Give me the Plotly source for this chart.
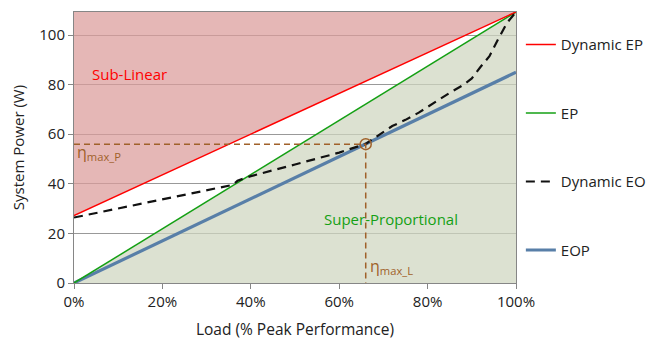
import plotly.graph_objects as go

# ---- data ----
load = [0, 100]                      # % peak performance
p_peak = 109.3
dyn_ep = [27.2, 109.3]               # Dynamic EP
ep = [0, 109.3]                      # EP
eop = [0, 85.0]                      # EOP

dyn_eo_load = [0, 10, 20, 30, 36, 37, 40, 50, 60, 66, 70, 72, 75, 78, 80, 83, 85, 88, 90, 92, 94, 96, 98, 100]
dyn_eo_power = [26.4, 30.1, 33.7, 37.4, 39.6, 41.3, 43.1, 47.8, 52.6, 56.1, 61.0, 63.3, 65.8, 68.7,
                71.0, 74.5, 76.7, 79.8, 82.5, 87.2, 91.5, 98.5, 105.0, 109.3]

eta_load = 66
eta_power = 56

x_ticks = [0, 20, 40, 60, 80, 100]
x_tick_labels = ["0%", "20%", "40%", "60%", "80%", "100%"]
y_ticks = [0, 20, 40, 60, 80, 100]

FONT = "Open Sans"
BROWN = "#A0612A"
RED = "#FF0000"
GREEN = "#14A014"
BLUE = "#587FA8"

fig = go.Figure()

# sub-linear region (above Dynamic EP)
fig.add_trace(go.Scatter(x=load, y=[p_peak, p_peak], mode="lines", line=dict(width=0),
                         showlegend=False, hoverinfo="skip"))
fig.add_trace(go.Scatter(x=load, y=dyn_ep, mode="lines", line=dict(width=0),
                         fill="tonexty", fillcolor="rgba(219,155,154,0.72)",
                         showlegend=False, hoverinfo="skip"))
# super-proportional region (below EP)
fig.add_trace(go.Scatter(x=load, y=ep, mode="lines", line=dict(width=0),
                         fill="tozeroy", fillcolor="rgba(206,214,191,0.72)",
                         showlegend=False, hoverinfo="skip"))

# lines
fig.add_trace(go.Scatter(x=load, y=eop, mode="lines", name="EOP",
                         line=dict(color=BLUE, width=3.2), legendrank=4, legendgroup="d"))
fig.add_trace(go.Scatter(x=load, y=ep, mode="lines", name="EP",
                         line=dict(color=GREEN, width=1.5), legendrank=2, legendgroup="b"))
fig.add_trace(go.Scatter(x=load, y=dyn_ep, mode="lines", name="Dynamic EP",
                         line=dict(color=RED, width=1.5), legendrank=1, legendgroup="a"))
fig.add_trace(go.Scatter(x=dyn_eo_load, y=dyn_eo_power, mode="lines", name="Dynamic EO",
                         line=dict(color="#111111", width=2.2, dash="9px,6px"),
                         legendrank=3, legendgroup="c"))

# eta max guides
fig.add_trace(go.Scatter(x=[0, eta_load, eta_load], y=[eta_power, eta_power, 0], mode="lines",
                         line=dict(color=BROWN, width=1.5, dash="6px,4px"),
                         showlegend=False, hoverinfo="skip"))
fig.add_trace(go.Scatter(x=[eta_load], y=[eta_power], mode="markers",
                         marker=dict(symbol="circle-open", size=11, color=BROWN, line=dict(width=1.5)),
                         showlegend=False, hoverinfo="skip"))

fig.add_annotation(x=3.6, y=84.2, text="Sub-Linear", showarrow=False, xanchor="left",
                   font=dict(color=RED, size=15, family=FONT))
fig.add_annotation(x=56.1, y=25.9, text="Super-Proportional", showarrow=False, xanchor="left",
                   font=dict(color=GREEN, size=15, family=FONT))
fig.add_annotation(x=0.3, y=52.5, text="η<sub>max_P</sub>", showarrow=False, xanchor="left",
                   font=dict(color=BROWN, size=16, family=FONT))
fig.add_annotation(x=66.6, y=6.5, text="η<sub>max_L</sub>", showarrow=False, xanchor="left",
                   font=dict(color=BROWN, size=16, family=FONT))

# page body adds an 8px margin, so the figure is sized/offset to compensate
fig.update_layout(
    width=653, height=333,
    margin=dict(l=66, r=145, t=4, b=58),
    paper_bgcolor="white", plot_bgcolor="white",
    font=dict(family=FONT, size=15, color="#222222"),
    legend=dict(x=1.011, xanchor="left", y=0.94, yanchor="top",
                traceorder="grouped", tracegroupgap=46,
                font=dict(size=15, family=FONT), bgcolor="rgba(0,0,0,0)", itemwidth=30),
    xaxis=dict(range=[0, 100], tickvals=x_ticks, ticktext=x_tick_labels, showgrid=False,
               showline=True, linecolor="#868686", mirror=True, ticks="outside",
               ticklen=5, tickcolor="#868686", zeroline=False, automargin=False,
               title=dict(text="Load (% Peak Performance)", standoff=14, font=dict(size=15.5))),
    yaxis=dict(range=[0, p_peak], tickvals=y_ticks, showgrid=True, gridcolor="#999999",
               showline=True, linecolor="#868686", mirror=True, ticks="outside",
               ticklen=5, tickcolor="#868686", zeroline=False, automargin=False,
               title=dict(text="System Power (W)", standoff=11, font=dict(size=15))),
)

fig.write_html("out.html")
